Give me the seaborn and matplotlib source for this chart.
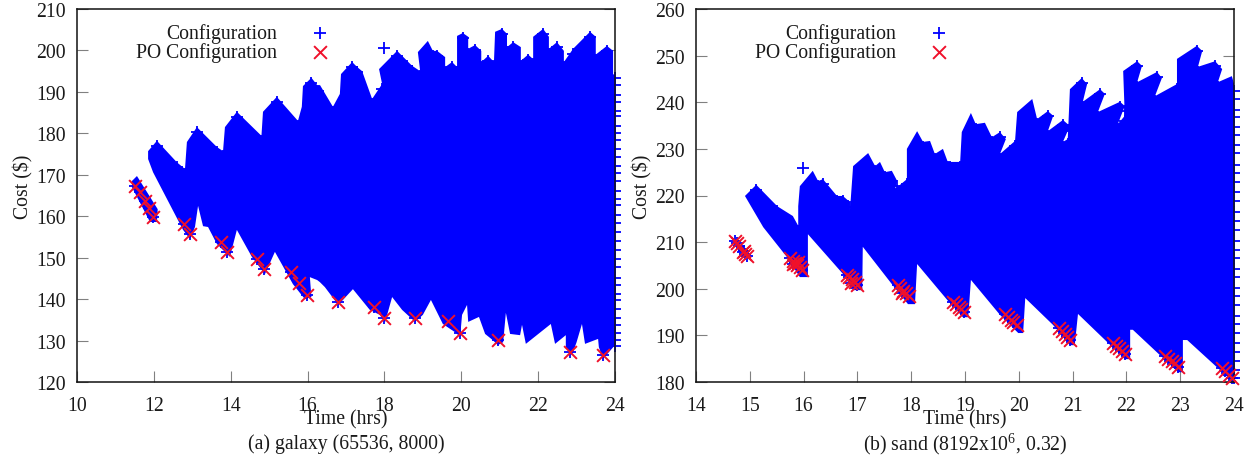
import matplotlib
matplotlib.use('Agg')
import matplotlib.pyplot as plt
from matplotlib.path import Path
import seaborn as sns

# --- data ---
# the configurations overlap into a solid mass, so it is kept as its outline

# (a) galaxy
a_top_t = [11.85, 12.08, 12.6, 12.81, 12.86, 13.12, 13.64, 13.8, 13.85, 14.16, 14.8, 14.84, 15.2, 15.75,
           15.85, 15.88, 16.1, 16.27, 16.32, 16.66, 16.84, 16.87, 17.16, 17.29, 17.42, 17.68, 17.94, 17.86,
           18.33, 18.59, 18.72, 18.93, 18.87, 19.13, 19.26, 19.37, 19.58, 19.58, 19.76, 19.89, 19.89, 20.04,
           20.18, 20.18, 20.36, 20.52, 20.52, 20.7, 20.85, 20.88, 21.06, 21.19, 21.19, 21.35, 21.55, 21.55,
           21.74, 21.87, 21.87, 22.13, 22.28, 22.28, 22.49, 22.67, 22.67, 22.91, 23.35, 23.5, 23.5, 23.79,
           23.95, 23.95, 24.0]
a_top_c = [175.7, 178.2, 173, 171.4, 177.9, 181.5, 176.7, 175.7, 181.5, 185.2, 179.4, 185.2, 188.8, 183,
           186.4, 191.4, 193.4, 191.4, 191.7, 186.4, 189.5, 194.3, 197.2, 196, 195, 188.3, 191.9, 195.5,
           199.9, 197.5, 196.3, 195, 199.6, 202.3, 199.9, 199.9, 198.4, 196, 197.2, 196, 203.5, 204.2,
           203.3, 200.4, 201.3, 199.9, 197.2, 198.7, 197.2, 204.5, 205.2, 204, 200.8, 202, 200.8, 197.5,
           199, 197.9, 203.3, 205.2, 203.3, 200.4, 202, 199.9, 197.2, 200.4, 204.5, 203.3, 199, 201.1,
           199.9, 194.3, 194]
a_low_t = [24.0, 23.69, 23.58, 23.56, 23.22, 23.14, 23.0, 22.88, 22.72, 22.72, 22.44, 22.33, 21.68, 21.58,
           21.53, 21.27, 21.16, 21.09, 20.95, 20.82, 20.62, 20.46, 20.18, 20.15, 20.02, 19.97, 19.84, 19.52,
           19.21, 19.0, 18.8, 18.46, 18.2, 18.02, 17.88, 17.62, 17.18, 16.8, 16.45, 16.32, 16.25, 16.06,
           16.1, 15.93, 15.62, 15.15, 14.89, 14.55, 14.16, 13.98, 13.64, 13.41, 13.28, 13.15, 13.07, 12.94,
           12.76, 11.98, 11.85]
a_low_c = [128.9, 125.6, 128.4, 130.4, 129.2, 134, 129.6, 126.5, 128.4, 131.3, 129.2, 134, 129.2, 133.8,
           131.3, 131.6, 136.7, 129.6, 128.9, 130.1, 131.6, 135.7, 134.5, 138.6, 136.2, 130.9, 132, 134,
           139.8, 136.2, 134.5, 137.4, 140.5, 134.5, 136.2, 137.4, 142.4, 138.6, 142.9, 144.1, 144.6, 145.3,
           140.5, 140, 143.6, 151.4, 146, 150.2, 156.7, 150.2, 153.3, 157.4, 157.6, 162.5, 157.4, 154.5,
           156.7, 170.6, 173.8]
a_first_t = [11.43, 11.56, 12.1, 12.08, 11.9, 11.43]
a_first_c = [168.5, 169.7, 161.7, 158.6, 158.6, 167]
a_lone_t = [17.99]
a_lone_c = [200.6]
a_edge_c = [193.4, 191.6, 189.2, 187.5, 185.4, 184.1, 181.8, 180.2, 178.3, 176.1, 174.4, 172.2, 170.5, 168.6,
            166.1, 164.2, 162.7, 160.3, 158.4, 156.2, 154.1, 151.8, 149.6, 147.7, 145.2, 143.4, 141.3, 139.7,
            137.6, 135.5, 133.7, 131.9, 130.2, 128.6]
a_po_t = [11.51, 11.64, 11.77, 11.87, 11.98, 12.78, 12.94, 13.75, 13.9, 14.68, 14.87, 15.57, 15.78, 15.98,
          16.8, 17.73, 17.99, 18.8, 19.65, 19.97, 20.95, 22.83, 23.69]
a_po_c = [167.3, 165.8, 163.7, 162, 159.8, 158.1, 155.7, 153.8, 151.4, 149.7, 147.3, 146.5, 143.9, 141,
          139.3, 138.1, 135.4, 135.4, 134.7, 131.8, 130.1, 127.2, 126.5]

# (b) sand
b_top_t = [14.91, 15.12, 15.51, 15.8, 15.9, 15.9, 15.93, 16.17, 16.27, 16.36, 16.62, 16.73, 16.86, 16.86,
           16.92, 17.2, 17.33, 17.42, 17.51, 17.64, 17.74, 17.7, 17.92, 17.92, 18.11, 18.22, 18.35, 18.44,
           18.59, 18.68, 18.72, 18.91, 18.94, 19.11, 19.2, 19.37, 19.5, 19.65, 19.76, 19.65, 19.93, 19.97,
           20.25, 20.34, 20.54, 20.64, 20.54, 20.82, 20.95, 20.82, 20.91, 20.95, 21.17, 21.27, 21.19, 21.51,
           21.6, 21.47, 21.88, 21.97, 21.84, 21.97, 21.94, 22.2, 22.29, 22.2, 22.57, 22.66, 22.53, 22.94,
           22.94, 23.31, 23.41, 23.33, 23.65, 23.78, 23.7, 23.96, 24.0]
b_top_c = [219.9, 222.3, 217.7, 215.6, 213.5, 217.7, 222, 225.3, 223.1, 223.5, 219.9, 219.9, 218.6, 216.5,
           226.3, 229.1, 226.3, 227.2, 225, 225.3, 223.1, 221.4, 223.5, 230, 233.8, 231.5, 231.7, 228.9,
           230, 227.2, 227.2, 227.2, 233.6, 237.7, 235.3, 235.6, 232.5, 233.6, 232.1, 228.9, 231.7, 237.9,
           240.7, 236.4, 238.1, 237.1, 233.8, 236.2, 234.9, 231.5, 232.1, 242.8, 245.2, 243.9, 240.1, 242.8,
           241.8, 237.9, 240.1, 239.2, 235.3, 237.1, 246.7, 248.8, 247.8, 244.3, 246.5, 245.2, 241.3, 243.9,
           249.3, 252.1, 251, 247.6, 248.8, 247.1, 244.3, 245.6, 244]
b_low_t = [24.02, 23.68, 23.13, 23.05, 23.05, 22.96, 22.62, 22.12, 22.07, 22.07, 21.97, 21.64, 21.1, 21.04,
           20.95, 20.64, 20.12, 20.08, 19.99, 19.65, 19.11, 19.06, 18.96, 18.67, 18.11, 18.07, 17.94, 17.64,
           17.1, 17.09, 16.92, 16.73, 16.08, 16.08, 15.93, 15.69, 15.25]
b_low_c = [179.6, 183.2, 189, 189, 182.1, 182.1, 185.8, 191.2, 191.2, 184.9, 184.9, 188.6, 194.6, 187.9,
           187.9, 192.2, 198, 190.5, 190.5, 194.4, 201.9, 193.9, 193.9, 197.6, 205.3, 196.7, 196.7, 201,
           209, 199.7, 199.7, 203.2, 211.7, 202.5, 202.5, 206.8, 213.2]
b_lone_t = [15.99]
b_lone_c = [225.9]
b_edge_c = [242.4, 240.6, 238.3, 236.8, 234.7, 232.9, 230.8, 229.1, 226.6, 224.9, 222.8, 220.7, 218.9, 216.4,
            214.6, 212.7, 210.2, 208.4, 206.5, 204.3, 202.6, 200.2, 198.5, 196.6, 194.2, 192.4, 190.6, 188.3,
            186.5, 184.4, 182.6, 180.8]
b_po_t = [14.72, 14.76, 14.8, 14.88, 14.92, 14.9, 14.94,
          15.75, 15.8, 15.84, 15.88, 15.93, 15.97, 15.8, 15.9,
          16.8, 16.85, 16.9, 16.95, 17.0, 16.88,
          17.75, 17.8, 17.85, 17.9, 17.96, 17.83,
          18.78, 18.83, 18.88, 18.93, 18.98,
          19.75, 19.8, 19.85, 19.9, 19.97,
          20.75, 20.8, 20.86, 20.9, 20.96,
          21.75, 21.8, 21.86, 21.92, 21.98,
          22.72, 22.78, 22.84, 22.9, 22.96,
          23.78, 23.84, 23.9, 23.96]
b_po_c = [210.2, 209.8, 209.2, 207.9, 207.4, 208.2, 207,
          206.6, 206, 205.5, 205, 204.6, 204, 205.3, 205.8,
          203, 202.5, 202, 201.5, 200.9, 201.3,
          200.8, 200.2, 199.6, 199, 198.4, 199,
          197.2, 196.7, 196.1, 195.6, 195,
          194.5, 193.9, 193.4, 192.8, 192.3,
          191.5, 190.9, 190.3, 189.7, 189.1,
          188.3, 187.8, 187.2, 186.7, 186,
          185.5, 185, 184.6, 184, 183.3,
          183, 182.3, 181.6, 180.9]

a_xticks = [10, 12, 14, 16, 18, 20, 22, 24]
a_yticks = [120, 130, 140, 150, 160, 170, 180, 190, 200, 210]
b_xticks = [14, 15, 16, 17, 18, 19, 20, 21, 22, 23, 24]
b_yticks = [180, 190, 200, 210, 220, 230, 240, 250, 260]

sns.set_style('white')
plt.rcParams['font.family'] = ['Liberation Serif', 'DejaVu Serif']
plt.rcParams['mathtext.default'] = 'regular'
plt.rcParams['font.size'] = 14.2

BLUE = '#0000ff'
RED = '#f0102a'
TEXT = '#1a1a1a'
HALF_MARK_Y = 5 / 373  # half a + marker, as a share of the y range
ARM_X = 3 / 538        # how far a rim mark's arm has to stay inside the outline


def rim_marks(top_t, top_c, low_t, low_c, xticks, yticks):
    # the outline is the outer edge of the marks, so pull them in by half a mark
    # and drop the ones whose arms would poke out of a steep edge
    inset = HALF_MARK_Y * (yticks[-1] - yticks[0])
    arm = ARM_X * (xticks[-1] - xticks[0])
    outline = Path(list(zip(top_t + low_t, top_c + low_c)) + [(top_t[0], top_c[0])])
    keep_t, keep_c = [], []
    for t, c in zip(top_t, top_c):
        tips = [(t - arm, c - inset), (t + arm, c - inset)]
        if outline.contains_points(tips).all():
            keep_t.append(t)
            keep_c.append(c - inset)
    return keep_t, keep_c


def draw_panel(ax, top_t, top_c, low_t, low_c, lone_t, lone_c, edge_c, po_t, po_c, xticks, yticks, caption):
    ax.fill(top_t + low_t, top_c + low_c, color=BLUE, lw=0, zorder=1)
    rim_t, rim_c = rim_marks(top_t, top_c, low_t, low_c, xticks, yticks)
    # marks on the x=24 edge stick out past the frame
    edge_t = [24] * len(edge_c)
    sns.scatterplot(x=lone_t + rim_t + po_t + edge_t, y=lone_c + rim_c + po_c + edge_c, ax=ax, marker='+',
                    color=BLUE, s=70, linewidth=1.3, clip_on=False, zorder=1.5, label='Configuration')
    sns.scatterplot(x=po_t, y=po_c, ax=ax, marker='x', color=RED,
                    s=85, linewidth=1.4, clip_on=False, zorder=3, label='PO Configuration')

    ax.set_xlim(xticks[0], xticks[-1])
    ax.set_ylim(yticks[0], yticks[-1])
    ax.set_xticks(xticks)
    ax.set_yticks(yticks)
    ax.set_axisbelow(True)
    ax.tick_params(direction='in', length=8, width=0.8, color='#808080', labelcolor=TEXT,
                   labelsize=14.2, right=True, left=True, bottom=True, top=False)
    ax.tick_params(axis='x', pad=10)
    ax.tick_params(axis='y', pad=8)
    for side in ax.spines.values():
        side.set_linewidth(1.1)
        side.set_color('#111111')

    ax.set_xlabel('Time (hrs)', color=TEXT, labelpad=-4)
    ax.set_ylabel('Cost ($)', color=TEXT, y=0.525, labelpad=2)
    ax.text(0.5, -0.165, caption, transform=ax.transAxes, ha='center', va='center', color=TEXT)

    leg = ax.legend(loc='upper left', bbox_to_anchor=(0.088, 0.994), frameon=False, markerfirst=False,
                    labelspacing=-0.02, handletextpad=1.15, borderaxespad=0.2, handlelength=2.0,
                    fontsize=14.2)
    for t in leg.get_texts():
        t.set_color(TEXT)


fig = plt.figure(figsize=(12.55, 4.56), dpi=100)
W, H = 1255, 456
ax_a = fig.add_axes([77 / W, (H - 383) / H, 538 / W, 373 / H])
ax_b = fig.add_axes([696 / W, (H - 383) / H, 538 / W, 373 / H])

draw_panel(ax_a, a_top_t, a_top_c, a_low_t, a_low_c, a_lone_t, a_lone_c, a_edge_c, a_po_t, a_po_c,
           a_xticks, a_yticks, '(a) galaxy (65536, 8000)')
ax_a.fill(a_first_t, a_first_c, color=BLUE, lw=0, zorder=1)

draw_panel(ax_b, b_top_t, b_top_c, b_low_t, b_low_c, b_lone_t, b_lone_c, b_edge_c, b_po_t, b_po_c,
           b_xticks, b_yticks, '(b) sand (8192x10$^{6}$, 0.32)')

fig.savefig('out.png', dpi=100)
